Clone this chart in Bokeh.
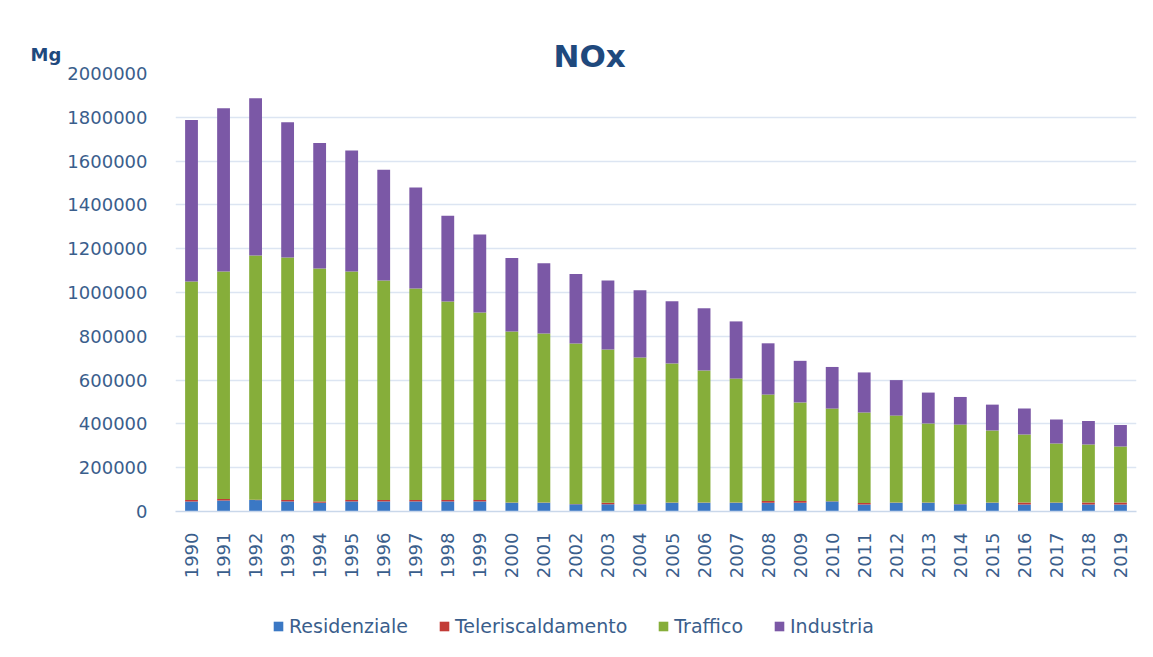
from bokeh.plotting import figure
from bokeh.layouts import column
from bokeh.models import (FactorRange, Range1d, FixedTicker, NumeralTickFormatter,
                          Legend, LegendItem, Label, Title)
from bokeh.embed import file_html
from bokeh.resources import INLINE
import math

years = [str(y) for y in range(1990, 2020)]
residenziale = [46000, 50000, 52000, 46000, 40000, 46000, 46000, 46000, 46000, 46000,
                40000, 40000, 33000, 33000, 33000, 40000, 40000, 40000, 40000, 40000,
                46000, 32000, 40000, 40000, 33000, 40000, 32000, 40000, 32000, 32000]
teleriscaldamento = [7000, 7000, 2000, 7000, 6000, 7000, 7000, 7000, 7000, 7000,
                     1000, 1000, 1000, 7000, 1000, 1000, 1000, 1000, 8000, 8000,
                     1000, 7000, 1000, 1000, 1000, 1000, 9000, 1000, 9000, 9000]
traffico = [997000, 1039000, 1115000, 1107000, 1064000, 1043000, 1002000, 965000, 906000, 856000,
            781000, 772000, 733000, 700000, 669000, 635000, 603000, 566000, 486000, 450000,
            423000, 413000, 397000, 361000, 363000, 329000, 311000, 269000, 265000, 256000]
industria = [738000, 745000, 718000, 617000, 573000, 552000, 506000, 461000, 391000, 356000,
             335000, 320000, 318000, 315000, 307000, 284000, 284000, 261000, 234000, 190000,
             190000, 183000, 162000, 141000, 126000, 118000, 118000, 110000, 107000, 98000]
series = ["Residenziale", "Teleriscaldamento", "Traffico", "Industria"]
colors = ["#3B78C4", "#C23B36", "#86AE3A", "#7B58A6"]
y_ticks = list(range(0, 2000001, 200000))

FONT = "DejaVu Sans"
TXT = "#3A5E8C"

p = figure(width=1137, height=600, x_range=FactorRange(*years, range_padding=0),
           y_range=Range1d(0, 2000000), output_backend="svg", toolbar_location=None,
           min_border_left=175, min_border_right=1, min_border_top=73, min_border_bottom=89)
p.outline_line_color = None
p.background_fill_color = "white"

data = dict(years=years, Residenziale=residenziale, Teleriscaldamento=teleriscaldamento,
            Traffico=traffico, Industria=industria)
rs = p.vbar_stack(series, x="years", width=0.4, color=colors, source=data, line_color=None)

p.xgrid.grid_line_color = None
p.ygrid.grid_line_color = "#DCE5F2"
p.ygrid.grid_line_width = 1.5
p.yaxis.ticker = FixedTicker(ticks=y_ticks)
p.yaxis.formatter = NumeralTickFormatter(format="0")
p.yaxis.axis_line_color = None
p.yaxis.major_tick_line_color = None
p.yaxis.minor_tick_line_color = None
p.yaxis.major_label_standoff = 22
p.yaxis.major_label_text_font = FONT
p.yaxis.major_label_text_font_size = "18px"
p.yaxis.major_label_text_color = TXT

p.xaxis.axis_line_color = "#C9D7EA"
p.xaxis.axis_line_width = 1.5
p.xaxis.major_tick_line_color = None
p.xaxis.minor_tick_line_color = None
p.xaxis.major_label_orientation = math.pi / 2
p.xaxis.major_label_standoff = 15
p.xaxis.major_label_text_font = FONT
p.xaxis.major_label_text_font_size = "18px"
p.xaxis.major_label_text_color = TXT

p.add_layout(Title(text="NOx", align="left", offset=378, standoff=0, text_font=FONT,
                   text_font_size="31px", text_font_style="bold", text_color="#1F497D"),
             "above")
p.add_layout(Label(x=-145, y=-19, x_units="screen", y_units="screen", text="Mg",
                   text_align="left", text_baseline="middle", text_font=FONT,
                   text_font_size="18px", text_font_style="bold", text_color="#1F497D"),
             "above")

# legend strip below the chart (swatch renderers are zero-height, so invisible)
p2 = figure(width=1137, height=41, x_range=Range1d(0, 1), y_range=Range1d(0, 1),
            x_axis_type=None, y_axis_type=None, output_backend="svg", toolbar_location=None,
            min_border=0)
p2.outline_line_color = None
p2.xgrid.visible = False
p2.ygrid.visible = False
lr = [p2.vbar(x=[0.5], top=[0], bottom=[0], width=0.01, color=c, line_color=None)
      for c in colors]
legend = Legend(items=[LegendItem(label=s, renderers=[r]) for s, r in zip(series, lr)],
                orientation="horizontal", location=(97, 4), padding=0, margin=0,
                spacing=30, glyph_width=12, glyph_height=12, label_standoff=5,
                label_text_font=FONT, label_text_font_size="19px", label_text_color=TXT,
                border_line_color=None, background_fill_alpha=0)
p2.add_layout(legend, "center")

open("out.html", "w").write(file_html(column(p, p2, spacing=0), INLINE))
